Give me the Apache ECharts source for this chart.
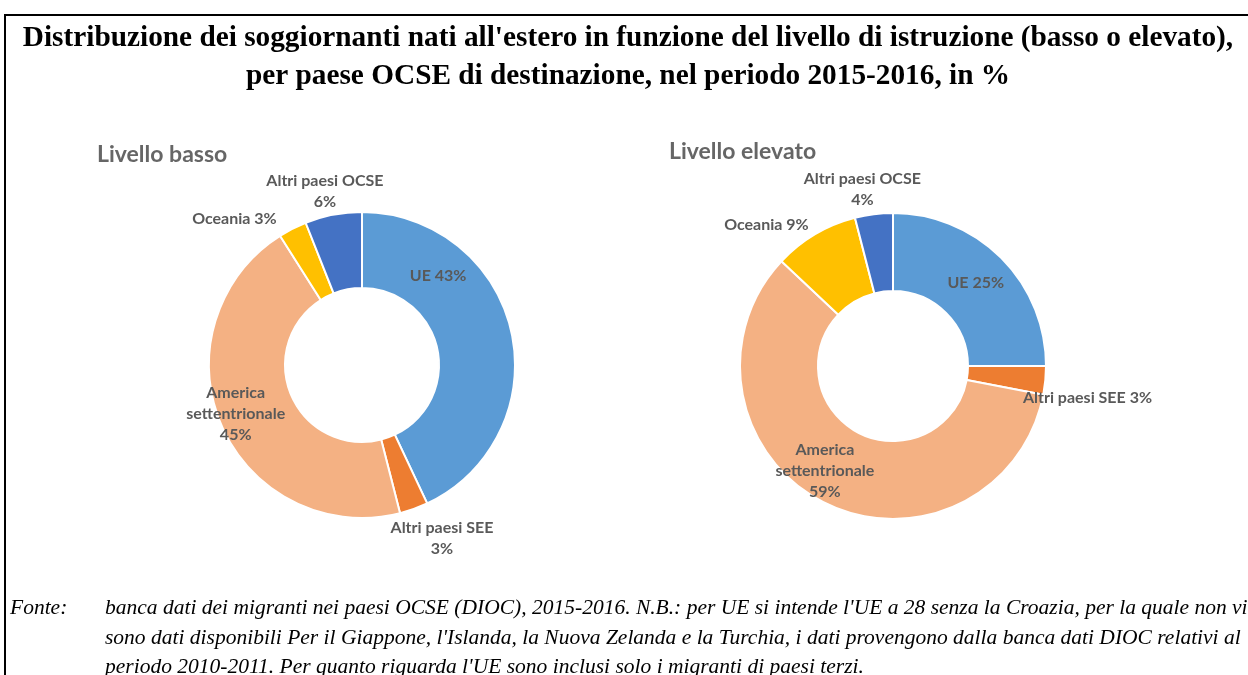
<!DOCTYPE html>
<html><head><meta charset="utf-8">
<script src="https://cdn.jsdelivr.net/npm/echarts@6/dist/echarts.min.js"></script>
<style>html,body{margin:0;padding:0;background:#fff}#c{width:1248px;height:675px}</style>
</head><body><div id="c"></div>
<script>
const categories = ['UE', 'Altri paesi SEE', 'America settentrionale', 'Oceania', 'Altri paesi OCSE'];
const valuesBasso = [43, 3, 45, 3, 6];
const valuesElevato = [25, 3, 59, 9, 4];
const colors = ['#5B9BD5', '#ED7D31', '#F4B183', '#FFC000', '#4472C4'];
const labelNamesBasso = ['UE', 'Altri paesi SEE\n', 'America\nsettentrionale\n', 'Oceania', 'Altri paesi OCSE\n'];
const labelNamesElevato = ['UE', 'Altri paesi SEE', 'America\nsettentrionale\n', 'Oceania', 'Altri paesi OCSE\n'];
const shiftBasso = [[-39,-63],[40,62],[-18,2],[-74,-41],[-15,-58]];
const shiftElevato = [[0,0],[78,21],[-15,1],[-67,-40],[-16,-61]];

function mk(vals, names) {
  return vals.map((v, i) => ({
    value: v, name: categories[i],
    itemStyle: { color: colors[i] },
    label: { formatter: names[i] + (names[i].endsWith('\n') ? '' : ' ') + '{c}%' }
  }));
}
const labelStyle = { position: 'inside', fontFamily: 'Lato', fontWeight: 'bold', fontSize: 16, color: '#595959', lineHeight: 21, align: 'center' };

const chart = echarts.init(document.getElementById('c'), null, { renderer: 'canvas' });
chart.setOption({
  animation: false,
  title: [
    { text: "Distribuzione dei soggiornanti nati all'estero in funzione del livello di istruzione (basso o elevato),\nper paese OCSE di destinazione, nel periodo 2015-2016, in %",
      left: 628, top: 19, textAlign: 'center', padding: 0,
      textStyle: { fontFamily: 'Liberation Serif', fontWeight: 'bold', fontSize: 29.3, lineHeight: 38, color: '#000' } },
    { text: 'Livello basso', left: 97, top: 143, padding: 0, textStyle: { fontFamily: 'Lato', fontWeight: 'bold', fontSize: 23, color: '#666666' } },
    { text: 'Livello elevato', left: 669, top: 140, padding: 0, textStyle: { fontFamily: 'Lato', fontWeight: 'bold', fontSize: 23, color: '#666666' } },
    { text: 'Fonte:', left: 10, top: 594, padding: 0, textStyle: { fontFamily: 'Liberation Serif', fontStyle: 'italic', fontWeight: 'normal', fontSize: 21.5, lineHeight: 29.5, color: '#000' } },
    { text: "banca dati dei migranti nei paesi OCSE (DIOC), 2015-2016. N.B.: per UE si intende l'UE a 28 senza la Croazia, per la quale non vi\nsono dati disponibili Per il Giappone, l'Islanda, la Nuova Zelanda e la Turchia, i dati provengono dalla banca dati DIOC relativi al\nperiodo 2010-2011. Per quanto riguarda l'UE sono inclusi solo i migranti di paesi terzi.",
      left: 105, top: 594, padding: 0, textStyle: { fontFamily: 'Liberation Serif', fontStyle: 'italic', fontWeight: 'normal', fontSize: 21.5, lineHeight: 29.5, color: '#000' } }
  ],
  graphic: [
    { type: 'line', shape: { x1: 4, y1: 15, x2: 1248, y2: 15 }, style: { stroke: '#000', lineWidth: 2 } },
    { type: 'line', shape: { x1: 5, y1: 14, x2: 5, y2: 675 }, style: { stroke: '#000', lineWidth: 2 } }
  ],
  series: [
    { type: 'pie', center: [362, 365], radius: [77, 153], startAngle: 90, clockwise: true,
      avoidLabelOverlap: false, labelLine: { show: false },
      itemStyle: { borderColor: '#fff', borderWidth: 2 },
      label: labelStyle,
      labelLayout: p => ({ dx: shiftBasso[p.dataIndex][0], dy: shiftBasso[p.dataIndex][1] }),
      data: mk(valuesBasso, labelNamesBasso) },
    { type: 'pie', center: [893, 366], radius: [75, 153], startAngle: 90, clockwise: true,
      avoidLabelOverlap: false, labelLine: { show: false },
      itemStyle: { borderColor: '#fff', borderWidth: 2 },
      label: labelStyle,
      labelLayout: p => ({ dx: shiftElevato[p.dataIndex][0], dy: shiftElevato[p.dataIndex][1] }),
      data: mk(valuesElevato, labelNamesElevato) }
  ]
});
</script></body></html>
